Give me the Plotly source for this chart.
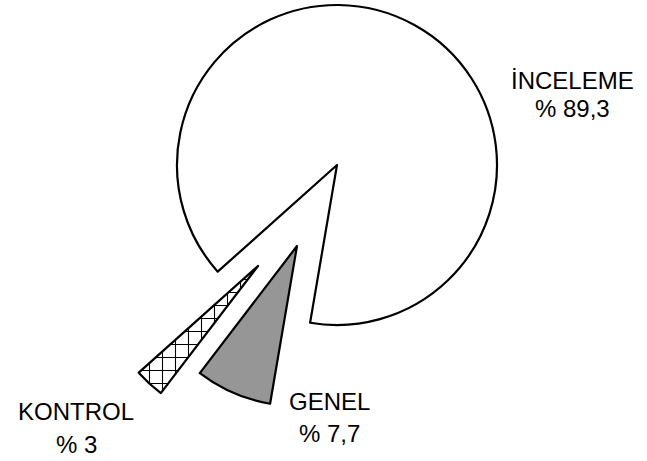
import plotly.graph_objects as go

W, H = 647, 461

categories = ["İNCELEME", "KONTROL", "GENEL"]
values = [89.3, 3.0, 7.7]
value_labels = ["% 89,3", "% 3", "% 7,7"]

# pixel centre of each (exploded) slice, radius in px
centers = {"İNCELEME": (337, 165), "KONTROL": (258, 266), "GENEL": (297, 246)}
R = 160
fills = {"İNCELEME": "white", "KONTROL": "white", "GENEL": "#969696"}
patterns = {"İNCELEME": "", "KONTROL": "+", "GENEL": ""}

fig = go.Figure()
for cat in categories:
    cx, cy = centers[cat]
    colors = [fills[c] if c == cat else "rgba(0,0,0,0)" for c in categories]
    lw = [2.2 if c == cat else 0 for c in categories]
    shapes = [patterns[c] if c == cat else "" for c in categories]
    fig.add_trace(go.Pie(
        labels=categories, values=values, sort=False,
        direction="counterclockwise", rotation=-131.8,
        marker=dict(colors=colors, line=dict(color="black", width=lw),
                    pattern=dict(shape=shapes, fgcolor="black", bgcolor="white",
                                 size=13, solidity=0.16)),
        textinfo="none", hoverinfo="skip", showlegend=False,
        domain=dict(x=[(cx - R) / W, (cx + R) / W],
                    y=[1 - (cy + R) / H, 1 - (cy - R) / H]),
    ))

label_pos = {"İNCELEME": (572, 80, 108), "KONTROL": (76, 411, 444), "GENEL": (330, 401, 433)}
for cat, vl in zip(categories, value_labels):
    x, y1, y2 = label_pos[cat]
    for txt, yy in ((cat, y1), (vl, y2)):
        fig.add_annotation(x=x / W, y=1 - yy / H, xref="paper", yref="paper",
                           text=txt, showarrow=False, xanchor="center", yanchor="middle",
                           font=dict(family="Liberation Sans, Arial", size=24, color="black"))

fig.update_layout(width=W, height=H, margin=dict(l=0, r=0, t=0, b=0),
                  paper_bgcolor="white", plot_bgcolor="white", showlegend=False)
fig.write_html("out.html", config={"displayModeBar": False},
               post_script="document.body.style.margin='0';document.body.style.overflow='hidden';")
